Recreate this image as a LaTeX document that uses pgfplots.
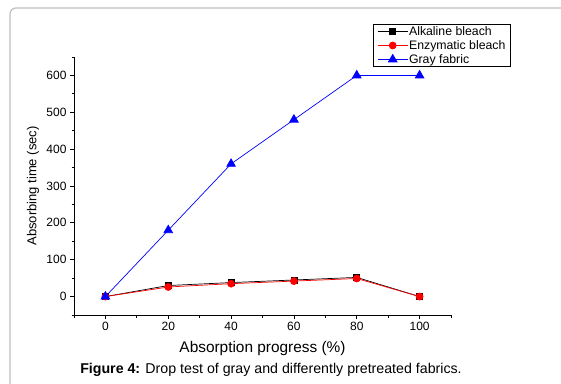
\documentclass[border=0pt]{standalone}
\usepackage{pgfplots}
\pgfplotsset{compat=1.18}
\usepackage{fontspec}
\setmainfont{Liberation Sans}
\begin{document}
\begin{tikzpicture}[x=1pt,y=1pt]
\path[use as bounding box] (0,0) rectangle (561,383);
\draw[black!25, line width=1.2pt, rounded corners=6pt] (10,-5) -- (10,375) -- (575,375);
\begin{axis}[
  at={(74pt,68pt)}, anchor=south west,
  scale only axis, width=377pt, height=258pt,
  xmin=-10, xmax=110, ymin=-50, ymax=650,
  axis lines*=left, axis line style={-, line width=0.8pt},
  tick align=outside,
  xtick={0,20,...,100}, ytick={0,100,...,600},
  minor xtick={-10,10,30,...,110}, minor ytick={-50,50,150,...,650},
  major tick length=4pt, minor tick length=2.5pt,
  tick style={black, line width=0.8pt},
  ticklabel style={font=\fontsize{12}{13}\selectfont},
  /pgf/number format/assume math mode=true,
  xlabel={Absorption progress (\%)},
  ylabel={Absorbing time (sec)},
  xlabel style={font=\fontsize{15.4}{16}\selectfont, at={(axis description cs:0.5,-0.128)}, anchor=center},
  ylabel style={font=\fontsize{13}{14}\selectfont, at={(axis description cs:-0.109,0.5)}, anchor=center},
  legend style={at={(0.793,1.128)}, anchor=north west, font=\fontsize{12.3}{13}\selectfont, draw=black, line width=0.8pt, inner xsep=4pt, inner ysep=1pt, row sep=1.5pt, nodes={inner sep=1pt}},
  legend cell align=left,
  legend image code/.code={\draw[mark repeat=2,mark phase=2,#1] plot coordinates {(0pt,0pt) (15pt,0pt) (30pt,0pt)};},
]
\addplot[black, line width=0.7pt, mark=square*, mark size=3pt, mark options={fill=black}] coordinates {(0,0) (20,30) (40,38) (60,45) (80,52) (100,0)};
\addlegendentry{Alkaline bleach}
\addplot[red, line width=0.7pt, mark=*, mark size=3.5pt, mark options={fill=red}] coordinates {(0,0) (20,26) (40,35) (60,42) (80,49) (100,0)};
\addlegendentry{Enzymatic bleach}
\addplot[blue, line width=0.7pt, mark=triangle*, mark size=5pt, mark options={fill=blue}] coordinates {(0,0) (20,180) (40,360) (60,480) (80,600) (100,600)};
\addlegendentry{Gray fabric}
\end{axis}
\node[font=\fontsize{14.2}{15}\selectfont] at (271,13) {\textbf{Figure 4:} Drop test of gray and differently pretreated fabrics.};
\end{tikzpicture}
\end{document}
